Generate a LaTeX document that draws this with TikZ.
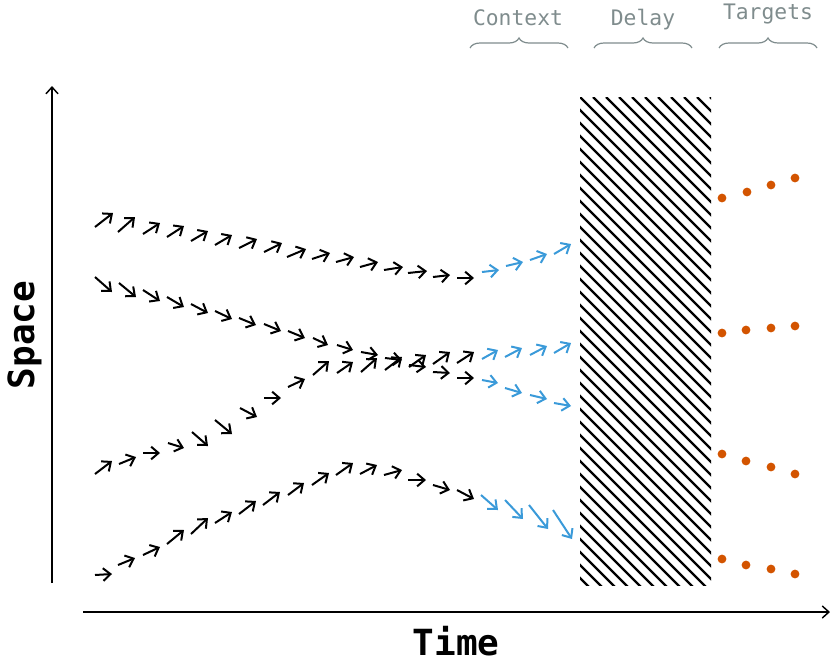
\documentclass[tikz,border=0pt]{standalone}
\usepackage{fontspec}
\setmonofont{DejaVu Sans Mono}
\usetikzlibrary{arrows.meta,decorations.pathreplacing}
\definecolor{ctxblue}{HTML}{3A9AD9}
\definecolor{tgtorange}{HTML}{D35400}
\definecolor{lblgray}{HTML}{7F8C8D}
\tikzset{
  vel/.style={line width=1.5pt,-{Straight Barb[length=5.5pt,width=9.5pt]},black},
  ctx/.style={vel,draw=ctxblue},
  axisline/.style={line width=1.1pt,-{Straight Barb[length=5pt,width=9pt]}},
  hatchline/.style={line width=1.7pt,black},
  tgt/.style={fill=tgtorange,draw=none},
  lbl/.style={font=\ttfamily\fontsize{16}{18}\selectfont,text=lblgray,anchor=base,inner sep=0pt},
  brc/.style={draw=lblgray,line width=0.9pt,decorate,decoration={brace,amplitude=7.5pt}},
  axlbl/.style={font=\ttfamily\bfseries\fontsize{27}{30}\selectfont,anchor=base,inner sep=0pt}
}
\begin{document}
\begin{tikzpicture}[x=0.75pt,y=-0.75pt]
\useasboundingbox (0,0) rectangle (830,664);
% axes
\coordinate (yo) at (52,583);
\coordinate (yt) at (52,86);
\coordinate (xo) at (83,612);
\coordinate (xt) at (830,612);
\draw[axisline] (yo) -- (yt);
\draw[axisline] (xo) -- (xt);
\node[axlbl] (time) at (456,655) {Time};
\node[axlbl,rotate=90] (space) at (34,335) {Space};
% top labels and braces
\node[lbl] (context) at (518,25) {Context};
\node[lbl] (delay) at (643,25) {Delay};
\node[lbl] (targets) at (768,19) {Targets};
\draw[brc] (470,48) -- (568,48);
\draw[brc] (594,48) -- (692,48);
\draw[brc] (719,48) -- (817,48);
% hatched delay block
\begin{scope}
\clip (580,97) rectangle (711,585);
\foreach \s in {-512,-499,...,711} \draw[hatchline] (\s,97) -- ++(500,500);
\end{scope}
% row 1
\foreach \x/\y/\dx/\dy in {95/227/18/-14,118/232/17/-15,143/234/17/-11,167/237/17/-11,191/241/17/-10,215/245/17/-10,239/248/18/-9,264/252/18/-9,287/257/19/-8,312/259/18/-6,336/262/18/-5,360/267/18/-5,384/270/19/-3,408/273/19/-2,433/277/17/-2,457/278/17/0}
  \draw[vel] (\x,\y) -- ++(\dx,\dy);
\foreach \x/\y/\dx/\dy in {482/272/17/-2,506/266/17/-4,530/260/17/-6,554/254/17/-10}
  \draw[ctx] (\x,\y) -- ++(\dx,\dy);
% row 2
\foreach \x/\y/\dx/\dy in {95/277/17/15,119/283/17/14,143/290/17/11,167/297/17/10,191/304/17/9,215/311/17/8,239/318/17/7,264/324/17/7,288/331/17/7,313/338/15/7,337/345/16/5,361/352/17/3,385/358/17/2,409/365/17/2,433/372/17/1,457/378/17/0}
  \draw[vel] (\x,\y) -- ++(\dx,\dy);
\foreach \x/\y/\dx/\dy in {482/380/16/3,505/388/17/5,530/395/17/4,554/403/17/3}
  \draw[ctx] (\x,\y) -- ++(\dx,\dy);
% row 3
\foreach \x/\y/\dx/\dy in {95/474/17/-13,119/464/17/-7,143/453/17/0,168/443/16/5,192/432/16/14,215/420/17/14,240/408/17/9,264/398/17/0,288/387/17/-8,313/375/16/-14,337/373/16/-11,361/372/16/-14,385/370/17/-13,409/367/17/-12,433/364/17/-12,457/363/17/-11}
  \draw[vel] (\x,\y) -- ++(\dx,\dy);
\foreach \x/\y/\dx/\dy in {482/359/16/-9,505/357/17/-9,530/355/17/-9,554/353/17/-10}
  \draw[ctx] (\x,\y) -- ++(\dx,\dy);
% row 4
\foreach \x/\y/\dx/\dy in {95/575/17/-1,118/565/17/-7,143/555/17/-8,167/544/17/-14,191/534/17/-16,215/523/17/-11,239/514/17/-13,263/505/17/-13,288/495/16/-12,312/485/17/-12,336/475/17/-12,360/474/17/-9,384/475/18/-5,408/480/18/0,433/485/17/5,457/490/17/9}
  \draw[vel] (\x,\y) -- ++(\dx,\dy);
\foreach \x/\y/\dx/\dy in {481/495/17/15,505/500/18/19,529/505/19/24,553/510/19/29}
  \draw[ctx] (\x,\y) -- ++(\dx,\dy);
% targets
\foreach \x/\y in {722/198,747/192,771/185,795/178,722/333,746/330,771/328,795/326,722/454,746/461,771/467,795/474,722/559,746/565,771/569,795/574}
  \fill[tgt] (\x,\y) circle (3.3pt);
\end{tikzpicture}
\end{document}
